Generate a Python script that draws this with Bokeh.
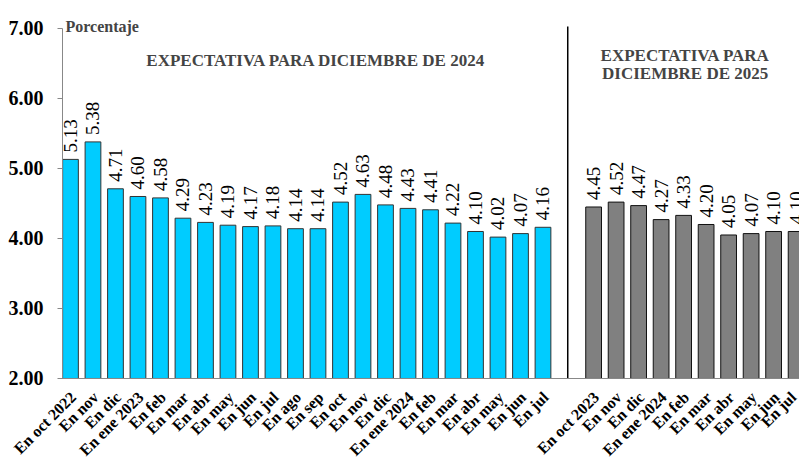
import math
from bokeh.plotting import figure
from bokeh.models import Range1d, FixedTicker, Label, ColumnDataSource, PrintfTickFormatter
from bokeh.core.properties import value
from bokeh.embed import file_html
from bokeh.resources import INLINE

# ---- data ----
left_labels = ["En oct 2022", "En nov", "En dic", "En ene 2023", "En feb", "En mar", "En abr",
               "En may", "En jun", "En jul", "En ago", "En sep", "En oct", "En nov", "En dic",
               "En ene 2024", "En feb", "En mar", "En abr", "En may", "En jun", "En jul"]
left_values = [5.13, 5.38, 4.71, 4.60, 4.58, 4.29, 4.23, 4.19, 4.17, 4.18, 4.14, 4.14,
               4.52, 4.63, 4.48, 4.43, 4.41, 4.22, 4.10, 4.02, 4.07, 4.16]
right_labels = ["En oct 2023", "En nov", "En dic", "En ene 2024", "En feb", "En mar",
                "En abr", "En may", "En jun", "En jul"]
right_values = [4.45, 4.52, 4.47, 4.27, 4.33, 4.20, 4.05, 4.07, 4.10, 4.10]
y_ticks = [2, 3, 4, 5, 6, 7]

title_left = "EXPECTATIVA PARA DICIEMBRE DE 2024"
title_right_1 = "EXPECTATIVA PARA"
title_right_2 = "DICIEMBRE DE 2025"
y_title = "Porcentaje"

# ---- positions ----
right_start = 23.25
divider_x = 22.1
tick_shift = 0.12
y_base = 2
x_axis_start = -0.354
x_end = 32.4
left_x = list(range(len(left_values)))
right_x = [right_start + i for i in range(len(right_values))]

SERIF = "Liberation Serif"

p = figure(width=799, height=458, output_backend="svg", toolbar_location=None,
           x_range=Range1d(-3.11, x_end), y_range=Range1d(0.857, 7.4),
           min_border_left=0, min_border_right=0, min_border_top=0, min_border_bottom=0)
p.outline_line_color = None
p.xgrid.visible = False
p.ygrid.visible = False
p.background_fill_color = "white"
p.border_fill_color = "white"

src_l = ColumnDataSource(dict(x=left_x, top=left_values, lab=["%.2f" % v for v in left_values]))
src_r = ColumnDataSource(dict(x=right_x, top=right_values, lab=["%.2f" % v for v in right_values]))

p.vbar(x="x", top="top", bottom=y_base, width=0.7, source=src_l,
       fill_color="#00CCFF", line_color="#333333", line_width=1)
p.vbar(x="x", top="top", bottom=y_base, width=0.7, source=src_r,
       fill_color="#808080", line_color="#111111", line_width=1)

for s in (src_l, src_r):
    p.text(x="x", y="top", text="lab", source=s, angle=math.pi / 2,
           text_align="left", text_baseline="middle", y_offset=-7,
           text_font=value(SERIF), text_font_size="19px", text_color="black")

# divider line between the two expectation groups
p.segment(x0=[divider_x], y0=[y_base], x1=[divider_x], y1=[7.03], line_color="black", line_width=1.5)

# y axis, fixed at the left edge of the bar area
p.yaxis.fixed_location = x_axis_start
p.yaxis.ticker = FixedTicker(ticks=y_ticks)
p.yaxis.bounds = (2, 7)
p.yaxis.formatter = PrintfTickFormatter(format="%.2f")
p.yaxis.major_label_text_font = SERIF
p.yaxis.major_label_text_font_style = "bold"
p.yaxis.major_label_text_font_size = "20px"
p.yaxis.major_label_text_color = "black"
p.yaxis.axis_line_color = "#888888"
p.yaxis.major_tick_line_color = "#888888"
p.yaxis.major_tick_out = 5
p.yaxis.major_tick_in = 0
p.yaxis.minor_tick_line_color = None
p.yaxis.major_label_standoff = 14

# x axis, fixed at the base of the bars
tick_pos = [xv + tick_shift for xv in left_x] + [xv + tick_shift for xv in right_x]
overrides = {}
for tp, lab in zip(tick_pos, left_labels + right_labels):
    overrides[tp] = lab
p.xaxis.fixed_location = y_base
p.xaxis.bounds = (x_axis_start, x_end)
p.xaxis.ticker = FixedTicker(ticks=tick_pos)
p.xaxis.major_label_overrides = overrides
p.xaxis.major_label_orientation = math.pi / 4
p.xaxis.major_label_text_font = SERIF
p.xaxis.major_label_text_font_style = "bold"
p.xaxis.major_label_text_font_size = "16px"
p.xaxis.major_label_text_color = "black"
p.xaxis.axis_line_color = "#888888"
p.xaxis.major_tick_line_color = None
p.xaxis.major_tick_out = 0
p.xaxis.major_tick_in = 0
p.xaxis.minor_tick_line_color = None
p.xaxis.major_label_standoff = 16

# annotations
p.add_layout(Label(x=-0.22, y=7.03, text=y_title, text_font=SERIF,
                   text_font_style="bold", text_font_size="16px", text_baseline="alphabetic"))
p.add_layout(Label(x=10.92, y=6.54, text=title_left, text_font=SERIF, text_font_style="bold",
                   text_font_size="17px", text_align="center", text_baseline="middle"))
p.add_layout(Label(x=27.32, y=6.61, text=title_right_1, text_font=SERIF, text_font_style="bold",
                   text_font_size="17px", text_align="center", text_baseline="middle"))
p.add_layout(Label(x=27.32, y=6.36, text=title_right_2, text_font=SERIF, text_font_style="bold",
                   text_font_size="17px", text_align="center", text_baseline="middle"))

open("out.html", "w").write(file_html(p, INLINE))
